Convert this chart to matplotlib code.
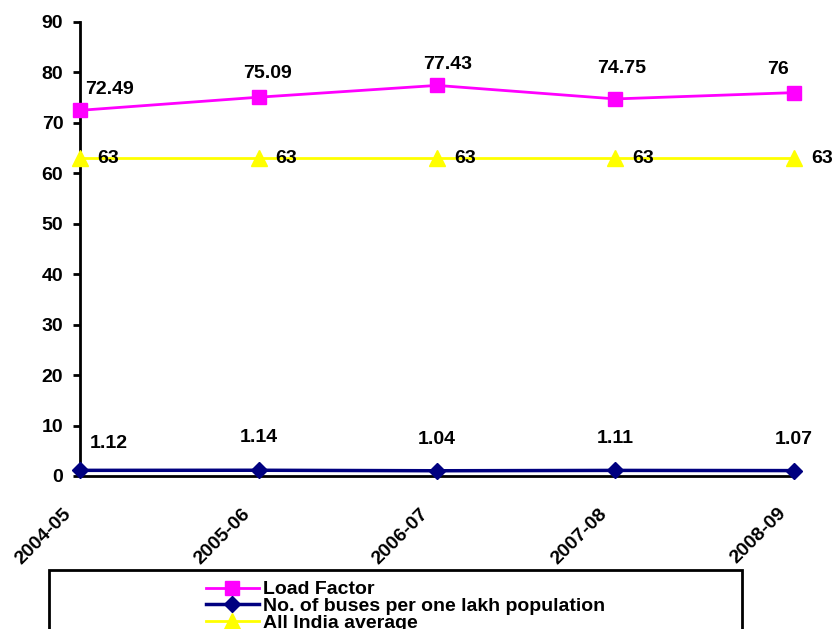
import matplotlib.pyplot as plt
from matplotlib.patches import Rectangle

years = ['2004-05', '2005-06', '2006-07', '2007-08', '2008-09']
load_factor = [72.49, 75.09, 77.43, 74.75, 76]
buses_per_lakh = [1.12, 1.14, 1.04, 1.11, 1.07]
india_avg = [63, 63, 63, 63, 63]

# label nudges in pixels (dx, dy)
lf_offsets = [(30, 21), (9, 24), (11, 21), (6, 30), (-16, 23)]
bus_offsets = [(29, 27), (0, 33), (0, 31), (0, 32), (0, 31)]

plt.rcParams['font.family'] = ['Liberation Sans', 'DejaVu Sans']
plt.rcParams['font.weight'] = 'bold'
FS = 14

fig = plt.figure(figsize=(8.35, 6.29), dpi=100)
ax = fig.add_axes([80 / 835, 1 - 476 / 629, (794 - 80) / 835, (476 - 22) / 629])

x = list(range(len(years)))
ax.plot(x, load_factor, color='#ff00ff', lw=2, marker='s', ms=10.5, label='Load Factor', clip_on=False, zorder=4)
ax.plot(x, buses_per_lakh, color='#000080', lw=2.5, marker='D', ms=8, label='No. of buses per one lakh population', clip_on=False, zorder=4)
ax.plot(x, india_avg, color='#ffff00', lw=2, marker='^', ms=12, label='All India average', clip_on=False, zorder=3)

# value labels
for i, v in enumerate(load_factor):
    ax.annotate(f'{v:g}', (i, v), xytext=lf_offsets[i], textcoords='offset pixels',
                ha='center', va='center', fontsize=FS, fontweight='bold')
for i, v in enumerate(buses_per_lakh):
    ax.annotate(f'{v:.2f}', (i, v), xytext=bus_offsets[i], textcoords='offset pixels',
                ha='center', va='center', fontsize=FS, fontweight='bold')
for i, v in enumerate(india_avg):
    ax.annotate(f'{v:g}', (i, v), xytext=(17, 0), textcoords='offset pixels',
                ha='left', va='center', fontsize=FS, fontweight='bold')

ax.set_xlim(0, len(x) - 1)
ax.set_ylim(0, 90)
ax.set_yticks(range(0, 91, 10))
ax.set_xticks(x)
ax.set_xticklabels([])
# slanted category labels, anchored just below-left of each tick
for i, yr in enumerate(years):
    ax.annotate(yr, (i, 0), xycoords=('data', 'axes fraction'), xytext=(-17, -29),
                textcoords='offset pixels', rotation=45, rotation_mode='anchor',
                ha='right', va='top', fontsize=FS, fontweight='bold', annotation_clip=False)
ax.tick_params(axis='x', length=0)
ax.tick_params(axis='y', length=5, width=2, labelsize=FS, direction='out', pad=7)
for lab in ax.get_yticklabels():
    lab.set_fontweight('bold')
ax.spines['top'].set_visible(False)
ax.spines['right'].set_visible(False)
ax.spines['left'].set_linewidth(2)
ax.spines['bottom'].set_linewidth(2)

# legend box, running off the bottom edge
fig.patches.append(Rectangle((49 / 835, -0.05), (742 - 49) / 835, 1 - 570 / 629 + 0.05,
                             transform=fig.transFigure, fill=False, edgecolor='black', lw=2))
leg = fig.legend(loc='upper left', bbox_to_anchor=(196 / 835, 1 - 571 / 629), frameon=False,
                 borderpad=0, labelspacing=-0.05, handlelength=2.75, handletextpad=0.2,
                 prop={'weight': 'bold', 'size': FS})

fig.savefig('out.png', dpi=100)
